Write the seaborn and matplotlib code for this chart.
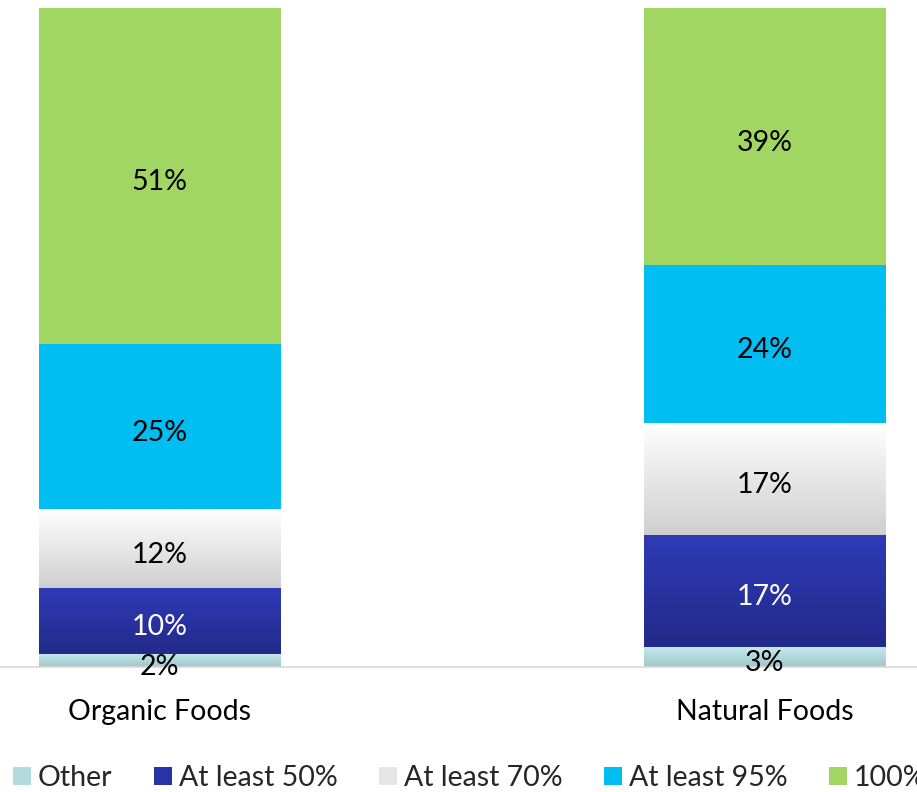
import numpy as np
import pandas as pd
import matplotlib
matplotlib.use("Agg")
import matplotlib.pyplot as plt
import seaborn as sns
from matplotlib.colors import LinearSegmentedColormap
from matplotlib.patches import Rectangle

categories = ["Organic Foods", "Natural Foods"]
series = ["Other", "At least 50%", "At least 70%", "At least 95%", "100%"]
other = [2, 3]
least50 = [10, 17]
least70 = [12, 17]
least95 = [25, 24]
full100 = [51, 39]

values = [other, least50, least70, least95, full100]
# gradient colours (top, bottom)
grad = [("#C2E9EC", "#A0C6C9"), ("#2F3BB6", "#222A8A"), ("#FFFFFF", "#CFCFCF"),
        ("#00BEF2", "#00BEF2"), ("#A2D664", "#A2D664")]
legend_colors = ["#B3DADD", "#2A33A6", "#E6E6E6", "#00BEF2", "#A2D664"]
label_colors = ["black", "white", "black", "black", "black"]

sns.set_theme(style="white")
plt.rcParams["font.family"] = ["Lato", "DejaVu Sans"]

FS = 20.5

fig = plt.figure(figsize=(9.17, 7.92), dpi=100)
ax = fig.add_axes([0, 125 / 792, 1, 659 / 792])

df = pd.DataFrame({"category": categories})
bottom = np.zeros(len(categories))
containers = []
for name, vals, (ctop, cbot) in zip(series, values, grad):
    df[name] = vals
    sns.barplot(data=df, x="category", y=name, bottom=bottom, color=ctop,
                width=0.4, ax=ax, saturation=1, linewidth=0)
    cont = ax.containers[-1]
    containers.append(cont)
    bottom = bottom + np.array(vals)

if ax.get_legend() is not None:
    ax.get_legend().remove()

ax.set_xlim(-159.5 / 605, 1 + 152.5 / 605)
ax.set_ylim(0, 100)

# gradient overlays clipped to each bar
for cont, (ctop, cbot) in zip(containers, grad):
    cmap = LinearSegmentedColormap.from_list("g", [cbot, ctop])
    for p in cont.patches:
        x0, y0 = p.get_x(), p.get_y()
        w, h = p.get_width(), p.get_height()
        g = np.linspace(0, 1, 100).reshape(-1, 1)
        im = ax.imshow(g, cmap=cmap, aspect="auto", origin="lower",
                       extent=[x0, x0 + w, y0, y0 + h], zorder=p.get_zorder() + 0.1)
        im.set_clip_path(p)

# value labels
for cont, vals, lc in zip(containers, values, label_colors):
    for p, v in zip(cont.patches, vals):
        cx = p.get_x() + p.get_width() / 2
        cy = p.get_y() + p.get_height() / 2
        ax.annotate(f"{v}%", (cx, cy), xytext=(0, -4.5), textcoords="offset points",
                    ha="center", va="center", fontsize=FS, color=lc, zorder=10)

ax.set_xlim(-159.5 / 605, 1 + 152.5 / 605)
ax.set_ylim(0, 100)
ax.set_xlabel("")
ax.set_ylabel("")
ax.set_yticks([])
ax.tick_params(axis="x", length=0, labelsize=FS, pad=23, colors="black")
for s in ["top", "left", "right"]:
    ax.spines[s].set_visible(False)
ax.spines["bottom"].set_color("#D9D9D9")
ax.spines["bottom"].set_linewidth(1.2)

handles = [Rectangle((0, 0), 1, 1, facecolor=c, edgecolor="none") for c in legend_colors]
fig.legend(handles, series, loc="center left", bbox_to_anchor=(13 / 917, 14 / 792),
           ncol=5, frameon=False, fontsize=FS, handlelength=0.63, handleheight=0.56,
           handletextpad=0.25, columnspacing=1.45, borderaxespad=0, borderpad=0)

fig.savefig("out.png", dpi=100)
